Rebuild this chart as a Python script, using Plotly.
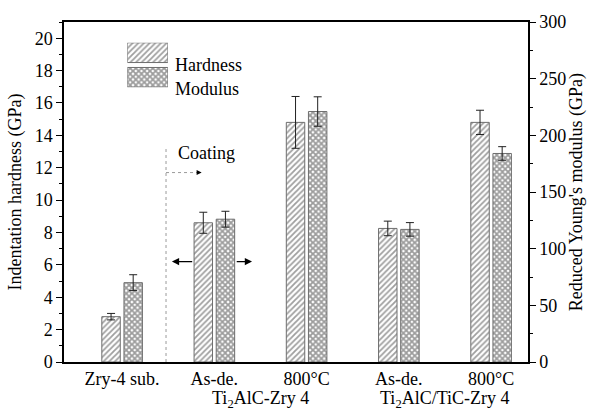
import plotly.graph_objects as go

# Samples along the x axis
sample_labels = ["Zry-4 sub.", "As-de.", "800°C", "As-de.", "800°C"]
group_labels = ["Ti<sub>2</sub>AlC-Zry 4", "Ti<sub>2</sub>AlC/TiC-Zry 4"]
group_centres = [1.5, 3.5]

# Indentation hardness (GPa), left axis
hardness = [2.8, 8.6, 14.8, 8.25, 14.8]
hardness_err = [0.2, 0.65, 1.6, 0.45, 0.75]

# Reduced Young's modulus (GPa), right axis
modulus = [70, 126, 221, 117, 184]
modulus_err = [7, 7, 13, 6, 6]

FONT = "Liberation Serif, Times New Roman, serif"
x_idx = list(range(len(sample_labels)))
BAR_W = 0.2

hard_pattern = dict(shape="/", size=4, solidity=0.45, fgcolor="#404040", bgcolor="white")
mod_pattern = dict(shape="x", size=4, solidity=0.7, fgcolor="#3a3a3a", bgcolor="white")
edge = dict(color="#6e6e6e", width=1)
err_style = dict(type="data", visible=True, color="#222222", thickness=1, width=4)

fig = go.Figure()

fig.add_trace(go.Bar(
    x=x_idx, y=hardness, width=BAR_W, offset=-0.22,
    error_y=dict(array=hardness_err, **err_style),
    marker=dict(color="white", pattern=hard_pattern, line=edge),
    name="Hardness", showlegend=False, yaxis="y",
))
fig.add_trace(go.Bar(
    x=x_idx, y=modulus, width=BAR_W, offset=0.02,
    error_y=dict(array=modulus_err, **err_style),
    marker=dict(color="white", pattern=mod_pattern, line=edge),
    name="Modulus", showlegend=False, yaxis="y2",
))

# Legend keys drawn as bars in a small inset axis
fig.add_trace(go.Bar(
    x=[1], y=[1], orientation="h", width=0.8, xaxis="x3", yaxis="y3",
    marker=dict(color="white", pattern=hard_pattern, line=edge), showlegend=False,
    hoverinfo="skip",
))
fig.add_trace(go.Bar(
    x=[1], y=[0], orientation="h", width=0.8, xaxis="x3", yaxis="y3",
    marker=dict(color="white", pattern=mod_pattern, line=edge), showlegend=False,
    hoverinfo="skip",
))

tick_font = dict(family=FONT, size=18, color="black")

fig.update_layout(
    width=595, height=410,
    margin=dict(l=64, r=62, t=18, b=48),
    paper_bgcolor="white", plot_bgcolor="white",
    barmode="overlay",
    font=dict(family=FONT, size=18, color="black"),
    xaxis=dict(
        range=[-0.63, 4.4], tickvals=x_idx, ticktext=sample_labels,
        showline=True, linecolor="black", linewidth=1.5, mirror=True,
        ticks="", showgrid=False, zeroline=False, tickfont=tick_font,
        ticklabelstandoff=0,
    ),
    yaxis=dict(
        range=[0, 21], tickvals=list(range(0, 21, 2)),
        showline=True, linecolor="black", linewidth=1.5,
        ticks="outside", ticklen=6, tickwidth=1, tickcolor="black",
        minor=dict(dtick=1, ticks="outside", ticklen=3, tickcolor="black"),
        showgrid=False, zeroline=False, tickfont=tick_font,
        title=dict(text="Indentation hardness (GPa)", font=tick_font, standoff=8),
    ),
    yaxis2=dict(
        range=[0, 300], tickvals=list(range(0, 301, 50)),
        overlaying="y", side="right",
        showline=True, linecolor="black", linewidth=1.5,
        ticks="outside", ticklen=6, tickwidth=1, tickcolor="black",
        minor=dict(dtick=25, ticks="outside", ticklen=3, tickcolor="black"),
        showgrid=False, zeroline=False, tickfont=tick_font,
        title=dict(text="Reduced Young's modulus (GPa)", font=tick_font, standoff=4),
    ),
    xaxis3=dict(domain=[0.1365, 0.2239], range=[0, 1], visible=False, anchor="y3"),
    yaxis3=dict(domain=[0.808, 0.939], range=[-0.4, 1.4], visible=False, anchor="x3"),
)

annotations = []
# Group names under the sample labels
for name, xc in zip(group_labels, group_centres):
    annotations.append(dict(
        x=xc, y=0, xref="x", yref="paper", text=name, showarrow=False,
        yanchor="middle", yshift=-37, font=tick_font,
    ))
# Legend texts
annotations.append(dict(x=0.2345, y=0.91, xref="paper", yref="paper", text="Hardness",
                        showarrow=False, xanchor="left", font=tick_font))
annotations.append(dict(x=0.2345, y=0.837, xref="paper", yref="paper", text="Modulus",
                        showarrow=False, xanchor="left", font=tick_font))
# Coating marker
annotations.append(dict(x=0.92, y=12.9, xref="x", yref="y", text="Coating",
                        showarrow=False, font=tick_font))
annotations.append(dict(x=0.862, y=11.7, ax=0.80, ay=11.7, xref="x", yref="y",
                        axref="x", ayref="y", text="", showarrow=True,
                        arrowhead=2, arrowsize=1, arrowwidth=1, arrowcolor="black"))
# Double arrow pointing to both axes
annotations.append(dict(x=0.54, y=6.2, ax=0.776, ay=6.2, xref="x", yref="y",
                        axref="x", ayref="y", text="", showarrow=True,
                        arrowhead=2, arrowsize=1.2, arrowwidth=1.2, arrowcolor="black"))
annotations.append(dict(x=1.408, y=6.2, ax=1.226, ay=6.2, xref="x", yref="y",
                        axref="x", ayref="y", text="", showarrow=True,
                        arrowhead=2, arrowsize=1.2, arrowwidth=1.2, arrowcolor="black"))
fig.update_layout(annotations=annotations)

fig.add_shape(type="line", x0=0.476, x1=0.476, y0=0, y1=13.2, xref="x", yref="y",
              line=dict(color="#9a9a9a", width=1, dash="dot"))
fig.add_shape(type="line", x0=0.476, x1=0.82, y0=11.7, y1=11.7, xref="x", yref="y",
              line=dict(color="#9a9a9a", width=1, dash="dot"))

fig.write_html("out.html")
